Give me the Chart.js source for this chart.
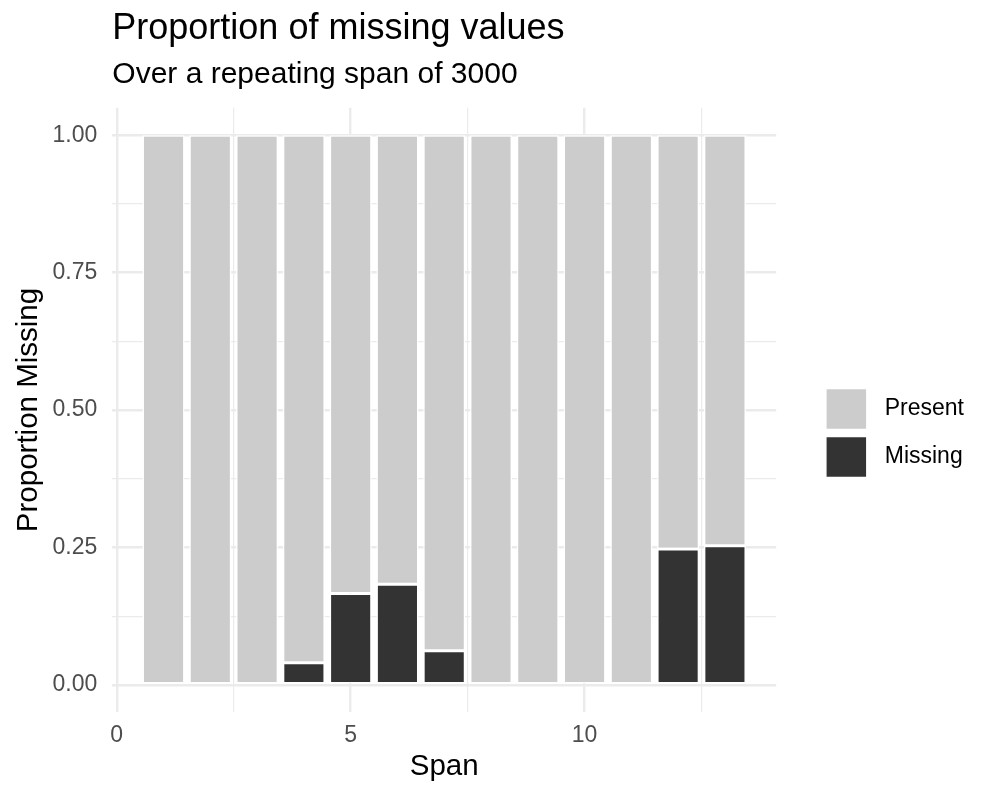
<!DOCTYPE html>
<html>
<head>
<meta charset="utf-8">
<script src="https://cdn.jsdelivr.net/npm/chart.js@4"></script>
<style>
  html, body { margin: 0; padding: 0; background: #ffffff; }
  #wrap { width: 1000px; height: 800px; position: relative; }
</style>
</head>
<body>
<div id="wrap"><canvas id="c"></canvas></div>
<script>
// ---- data ----
const spans = [1, 2, 3, 4, 5, 6, 7, 8, 9, 10, 11, 12, 13];
const missingProp = [0, 0, 0, 0.040, 0.166, 0.183, 0.062, 0, 0, 0, 0, 0.247, 0.253];
const presentProp = [1, 1, 1, 0.960, 0.834, 0.817, 0.938, 1, 1, 1, 1, 0.753, 0.747];
const seriesNames = ['Missing', 'Present'];
const xTickValues = [0, 5, 10];
const xTickLabels = ['0', '5', '10'];
const xMinorValues = [2.5, 7.5, 12.5];
const yTickValues = [0, 0.25, 0.5, 0.75, 1];
const yTickLabels = ['0.00', '0.25', '0.50', '0.75', '1.00'];
const yMinorValues = [0.125, 0.375, 0.625, 0.875];
const titleText = 'Proportion of missing values';
const subtitleText = 'Over a repeating span of 3000';
const xTitle = 'Span';
const yTitle = 'Proportion Missing';

// ---- chart ----
const FONT = '"Liberation Sans", Arial, Helvetica, sans-serif';
const GRID = '#EBEBEB';

function isIn(arr, v) { return arr.some(a => Math.abs(a - v) < 1e-9); }

const ctx = document.getElementById('c').getContext('2d');
new Chart(ctx, {
  type: 'bar',
  data: {
    datasets: [
      {
        label: seriesNames[0],
        data: spans.map((s, i) => ({ x: s, y: missingProp[i] })),
        backgroundColor: '#333333',
        borderColor: '#ffffff',
        borderWidth: 1.5,
        borderSkipped: false,
        barPercentage: 0.9,
        categoryPercentage: 1.0
      },
      {
        label: seriesNames[1],
        data: spans.map((s, i) => ({ x: s, y: presentProp[i] })),
        backgroundColor: '#CCCCCC',
        borderColor: '#ffffff',
        borderWidth: 1.5,
        borderSkipped: false,
        barPercentage: 0.9,
        categoryPercentage: 1.0
      }
    ]
  },
  options: {
    responsive: true,
    maintainAspectRatio: false,
    animation: false,
    layout: { padding: { left: 0, right: 26, top: 0, bottom: 0 } },
    plugins: {
      tooltip: { enabled: false },
      title: {
        display: true,
        text: titleText,
        align: 'start',
        fullSize: false,
        color: '#000000',
        font: { family: FONT, size: 36, weight: 'normal', lineHeight: 1.2 },
        padding: { top: 7.5, bottom: 0 }
      },
      subtitle: {
        display: true,
        text: subtitleText,
        align: 'start',
        fullSize: false,
        color: '#000000',
        font: { family: FONT, size: 30, weight: 'normal', lineHeight: 1.2 },
        padding: { top: 6.2, bottom: 14.8 }
      },
      legend: {
        display: true,
        position: 'right',
        align: 'center',
        reverse: true,
        title: {
          display: true,
          text: '',
          padding: 0,
          font: { family: FONT, size: 66, lineHeight: 1 }
        },
        labels: {
          color: '#000000',
          font: { family: FONT, size: 23 },
          boxWidth: 41,
          boxHeight: 41,
          padding: 7,
          generateLabels(chart) {
            const items = Chart.defaults.plugins.legend.labels.generateLabels(chart);
            items.forEach(it => { it.text = ' ' + it.text; });
            return items;
          }
        }
      }
    },
    scales: {
      x: {
        type: 'linear',
        position: 'bottom',
        stacked: true,
        offset: false,
        min: -0.095,
        max: 14.095,
        afterBuildTicks(scale) {
          scale.ticks = xTickValues.concat(xMinorValues).sort((a, b) => a - b).map(v => ({ value: v }));
        },
        afterFit(scale) { scale.height = 87.7; },
        ticks: {
          autoSkip: false,
          maxRotation: 0,
          padding: 10,
          color: '#4D4D4D',
          font: { family: FONT, size: 23 },
          callback(v) {
            const i = xTickValues.findIndex(t => Math.abs(t - v) < 1e-9);
            return i >= 0 ? xTickLabels[i] : '';
          }
        },
        grid: {
          offset: false,
          drawTicks: false,
          color: GRID,
          lineWidth(c) { return isIn(xTickValues, c.tick.value) ? 2.4 : 1.2; }
        },
        border: { display: false },
        title: {
          display: true,
          text: xTitle,
          color: '#000000',
          font: { family: FONT, size: 29.5 },
          padding: { top: 0, bottom: 15.5 }
        }
      },
      y: {
        type: 'linear',
        position: 'left',
        stacked: true,
        min: -0.05,
        max: 1.05,
        afterBuildTicks(scale) {
          scale.ticks = yTickValues.concat(yMinorValues).sort((a, b) => a - b).map(v => ({ value: v }));
        },
        afterFit(scale) { scale.width = 112.3; },
        ticks: {
          autoSkip: false,
          padding: 15,
          color: '#4D4D4D',
          font: { family: FONT, size: 23 },
          callback(v) {
            const i = yTickValues.findIndex(t => Math.abs(t - v) < 1e-9);
            return i >= 0 ? yTickLabels[i] : '';
          }
        },
        grid: {
          drawTicks: false,
          color: GRID,
          lineWidth(c) { return isIn(yTickValues, c.tick.value) ? 2.4 : 1.2; }
        },
        border: { display: false },
        title: {
          display: true,
          text: yTitle,
          color: '#000000',
          font: { family: FONT, size: 29.5 },
          padding: { top: 11, bottom: 0 }
        }
      },
      gap: {
        type: 'linear',
        position: 'right',
        display: true,
        afterFit(scale) { scale.width = 42.7; },
        ticks: { display: false },
        grid: { display: false, drawTicks: false },
        border: { display: false }
      }
    }
  }
});
</script>
</body>
</html>
